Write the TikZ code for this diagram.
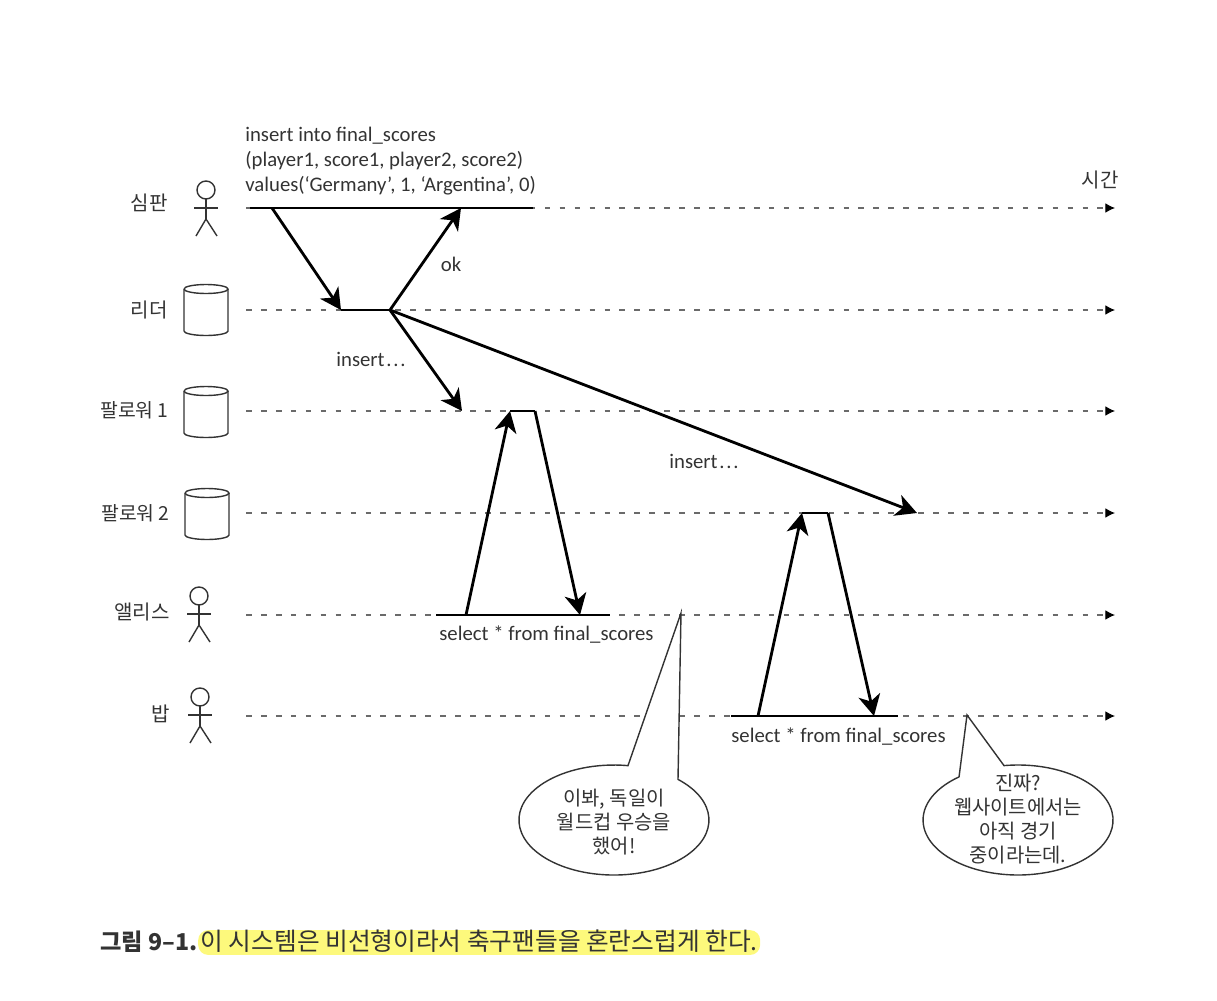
\documentclass[tikz,border=0pt]{standalone}
\usepackage{fontspec}
\setmainfont{Carlito}
\newfontfamily\krfont{Noto Sans CJK KR}
\usetikzlibrary{arrows.meta,positioning}

\definecolor{inkgray}{HTML}{333333}
\definecolor{dashgray}{HTML}{6A6A6A}
\definecolor{hlyellow}{HTML}{FDF97C}

\tikzset{
    lane/.style={line width=0.6pt, draw=dashgray, dash pattern=on 3.2pt off 5.3pt, -{Latex[length=5.5pt,width=5.5pt,black]}},
    busy/.style={line width=1.6pt, draw=black},
    msg/.style={line width=1.6pt, draw=black, -{Stealth[length=12pt,width=12.5pt,inset=3.5pt]}},
    outline/.style={line width=0.8pt, draw=inkgray},
    krlabel/.style={font=\krfont\fontsize{11.4}{14}\selectfont, text=inkgray, inner sep=0pt},
    txtlabel/.style={font=\fontsize{11.8}{14.2}\selectfont, text=inkgray, inner sep=0pt},
    saytext/.style={krlabel, align=center, font=\krfont\fontsize{11.3}{13.7}\selectfont},
}

\newcommand{\stickfig}[2]{%
    \begin{scope}[shift={(#1,#2)}, outline]
        \draw (0,-18) circle[radius=1.8mm];
        \draw (0,-9) -- (0,11);
        \draw (-12,0) -- (12,0);
        \draw (-10,28) -- (0,11) -- (11,28);
    \end{scope}}
\newcommand{\dbcan}[2]{%
    \begin{scope}[shift={(#1,#2)}, outline]
        \draw (-22,-21) arc[start angle=180,end angle=540,x radius=4.4mm,y radius=0.9mm];
        \draw (-22,-21) -- (-22,21) arc[start angle=180,end angle=360,x radius=4.4mm,y radius=0.9mm] -- (22,-21);
    \end{scope}}

\begin{document}
\begin{tikzpicture}[x=0.2mm, y=-0.2mm]
    \useasboundingbox (0,0) rectangle (1217,1000);

    % 시간선
    \foreach \lane/\y in {ump/208, lead/310, fone/411, ftwo/513, alice/615, bob/716} {
        \coordinate (\lane Start) at (246,\y);
        \coordinate (\lane End) at (1115,\y);
        \draw[lane] (\lane Start) -- (\lane End);
    }

    % 왼쪽 이름
    \node[krlabel, anchor=east] (umpName) at (168,203) {심판};
    \node[krlabel, anchor=east] (leadName) at (168,310) {리더};
    \node[krlabel, anchor=east, font=\krfont\fontsize{11}{14}\selectfont] (foneName) at (169,410) {팔로워 1};
    \node[krlabel, anchor=east, font=\krfont\fontsize{11}{14}\selectfont] (ftwoName) at (170,513) {팔로워 2};
    \node[krlabel, anchor=east] (aliceName) at (170,612) {앨리스};
    \node[krlabel, anchor=east] (bobName) at (170,714) {밥};
    \node[krlabel, anchor=center] (timeName) at (1100,180) {시간};

    % 사람과 데이터베이스
    \stickfig{206}{208}
    \dbcan{206}{310}
    \dbcan{206}{412}
    \dbcan{207}{514}
    \stickfig{199}{614}
    \stickfig{200}{715}

    % 처리 구간
    \coordinate (umpA) at (250,208);
    \coordinate (umpB) at (533,208);
    \coordinate (leadA) at (341,310);
    \coordinate (leadB) at (390,310);
    \coordinate (foneA) at (510,411);
    \coordinate (foneB) at (535,411);
    \coordinate (ftwoA) at (802,513);
    \coordinate (ftwoB) at (828,513);
    \coordinate (aliceA) at (436,615);
    \coordinate (aliceB) at (610,615);
    \coordinate (bobA) at (731,716);
    \coordinate (bobB) at (898,716);
    \foreach \a/\b in {umpA/umpB, leadA/leadB, foneA/foneB, ftwoA/ftwoB, aliceA/aliceB, bobA/bobB}
        \draw[busy] (\a) -- (\b);

    % 메시지 화살표
    \coordinate (umpSend) at (272,208);
    \coordinate (umpAck) at (461,208);
    \coordinate (foneIn) at (462,411);
    \coordinate (ftwoIn) at (917,513);
    \coordinate (aliceAsk) at (466,615);
    \coordinate (aliceGet) at (580,615);
    \coordinate (bobAsk) at (758,716);
    \coordinate (bobGet) at (874,716);
    \draw[msg] (umpSend) -- (leadA);
    \draw[msg] (leadB) -- (umpAck);
    \draw[msg] (leadB) -- (foneIn);
    \draw[msg] (leadB) -- (ftwoIn);
    \draw[msg] (aliceAsk) -- (foneA);
    \draw[msg] (foneB) -- (aliceGet);
    \draw[msg] (bobAsk) -- (ftwoA);
    \draw[msg] (ftwoB) -- (bobGet);

    % 글자
    \node[txtlabel, anchor=north west, align=left] (sqlText) at (245,127)
        {insert into final\_scores\\(player1, score1, player2, score2)\\values(‘Germany’, 1, ‘Argentina’, 0)};
    \node[txtlabel] (okText) at (451,264) {ok};
    \node[txtlabel] (insertOne) at (371,359) {insert\kern1pt.\kern1pt.\kern1pt.};
    \node[txtlabel] (insertTwo) at (704,461) {insert\kern1pt.\kern1pt.\kern1pt.};
    \node[txtlabel, anchor=west] (selectOne) at (439,635) {select * from final\_scores};
    \node[txtlabel, anchor=west] (selectTwo) at (731,737) {select * from final\_scores};

    % 말풍선
    \coordinate (aliceTip) at (681,613);
    \coordinate (aliceJoin) at (678,779.4);
    \draw[outline, fill=white] (aliceTip) -- (aliceJoin)
        arc[start angle=47.6, end angle=-278.5, x radius=19mm, y radius=11mm] -- cycle;
    \node[saytext] (aliceSays) at (614,822) {이봐, 독일이\\월드컵 우승을\\했어!};

    \coordinate (bobTip) at (967,715);
    \coordinate (bobJoin) at (1004,765.6);
    \draw[outline, fill=white] (bobTip) -- (bobJoin)
        arc[start angle=98.5, end angle=-231.6, x radius=19mm, y radius=11mm] -- cycle;
    \node[saytext] (bobSays) at (1018,819) {진짜?\\웹사이트에서는\\아직 경기\\중이라는데.};

    % 그림 설명
    \node[anchor=base west, inner sep=0pt, text=inkgray, font=\krfont\bfseries\fontsize{13.2}{16}\selectfont] (capNum) at (100,950) {그림 9–1.};
    \node[anchor=base west, fill=hlyellow, rounded corners=2mm, inner xsep=0.5mm, inner ysep=0.8pt, text height=10.5pt, text depth=2pt, text=inkgray,
        font=\krfont\fontsize{14.05}{16}\selectfont] (capText) at (capNum.base east) {이 시스템은 비선형이라서 축구팬들을 혼란스럽게 한다.};
\end{tikzpicture}
\end{document}
